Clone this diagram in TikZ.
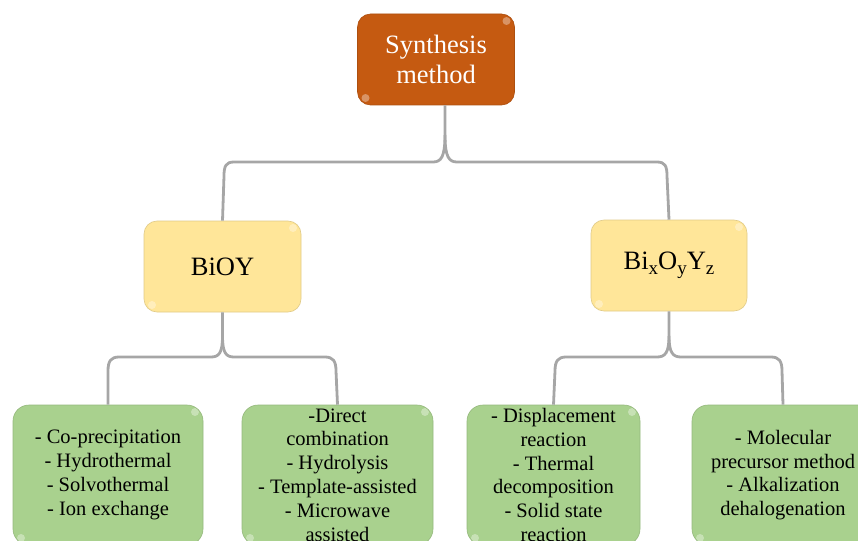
\documentclass[tikz,border=0pt]{standalone}
\usepackage{fontspec}
\setmainfont{LiberationSerif}[Extension=.ttf, UprightFont=*-Regular, BoldFont=*-Bold, ItalicFont=*-Italic, BoldItalicFont=*-BoldItalic]
\usetikzlibrary{calc}
\definecolor{topc}{HTML}{C55A11}
\definecolor{yel}{HTML}{FFE699}
\definecolor{grn}{HTML}{A9D18E}
\definecolor{conc}{HTML}{A6A6A6}
\begin{document}
\begin{tikzpicture}[x=1pt,y=-1pt,
  box/.style={rounded corners=13pt, inner sep=0pt, align=center,
    draw=#1!88!black, line width=0.6pt, fill=#1,
    path picture={
      \fill[white,opacity=0.35] ($(path picture bounding box.north east)+(-8pt,-7pt)$) circle (4pt);
      \fill[white,opacity=0.35] ($(path picture bounding box.south west)+(8pt,7pt)$) circle (4pt);}},
  topbox/.style={box=topc, minimum width=157pt, minimum height=91pt, text=white,
    font=\fontsize{26.5}{30}\selectfont},
  midbox/.style={box=yel, minimum width=157pt, minimum height=91pt, text=black,
    font=\fontsize{26.5}{30}\selectfont},
  leafbox/.style={box=grn, rounded corners=16pt, minimum height=140pt, text=black,
    font=\fontsize{20.5}{23.8}\selectfont},
  conn/.style={draw=conc, line width=2.8pt}
]
\useasboundingbox (0,0) rectangle (858,540);
\clip (0,0) rectangle (858,540);

\node[topbox] (top) at (436,59.5) {Synthesis\\method};
\node[midbox] (bioy) at (222.5,266.5) {BiOY};
\node[midbox, minimum width=156pt] (bix) at (669,265.5)
  {Bi\raisebox{-5pt}{\fontsize{19}{19}\selectfont x}O\raisebox{-5pt}{\fontsize{19}{19}\selectfont y}Y\raisebox{-5pt}{\fontsize{19}{19}\selectfont z}};

\node[leafbox, minimum width=190pt] (g1) at (108,475)
  {- Co-precipitation\\- Hydrothermal\\- Solvothermal\\- Ion exchange};
\node[leafbox, minimum width=191pt] (g2) at (337.5,475)
  {-Direct\\combination\\- Hydrolysis\\- Template-assisted\\- Microwave\\assisted};
\node[leafbox, minimum width=173pt] (g3) at (553.5,475)
  {- Displacement\\reaction\\- Thermal\\decomposition\\- Solid state\\reaction};
\node[leafbox, minimum width=182pt] (g4) at (783,475)
  {- Molecular\\precursor method\\- Alkalization\\dehalogenation};

% top brace
\coordinate (ts) at ([xshift=9pt]top.south);
\coordinate (tb) at (445,135);
\draw[conn] (ts) -- (tb) .. controls (445,157) and (441,162) .. (433,162) -- (234,162)
  .. controls (226,162) and (224,166) .. (224,176) -- (bioy.north);
\draw[conn] (tb) .. controls (445,157) and (449,162) .. (457,162) -- (657,162)
  .. controls (665,162) and (667,166) .. (667,176) -- (bix.north);

% BiOY brace
\coordinate (bb) at (222.5,336);
\draw[conn] (bioy.south) -- (bb) .. controls (222.5,353) and (219,357) .. (211,357) -- (119,357)
  .. controls (111,357) and (108,361) .. (108,371) -- (g1.north);
\draw[conn] (bb) .. controls (222.5,353) and (226,357) .. (234,357) -- (325,357)
  .. controls (333,357) and (336,361) .. (336,371) -- (g2.north);

% BixOyYz brace
\coordinate (xb) at (669,336);
\draw[conn] (bix.south) -- (xb) .. controls (669,353) and (665,357) .. (657,357) -- (566,357)
  .. controls (558,357) and (555,361) .. (555,371) -- (g3.north);
\draw[conn] (xb) .. controls (669,353) and (673,357) .. (681,357) -- (771,357)
  .. controls (779,357) and (782,361) .. (782,371) -- (g4.north);
\end{tikzpicture}
\end{document}
